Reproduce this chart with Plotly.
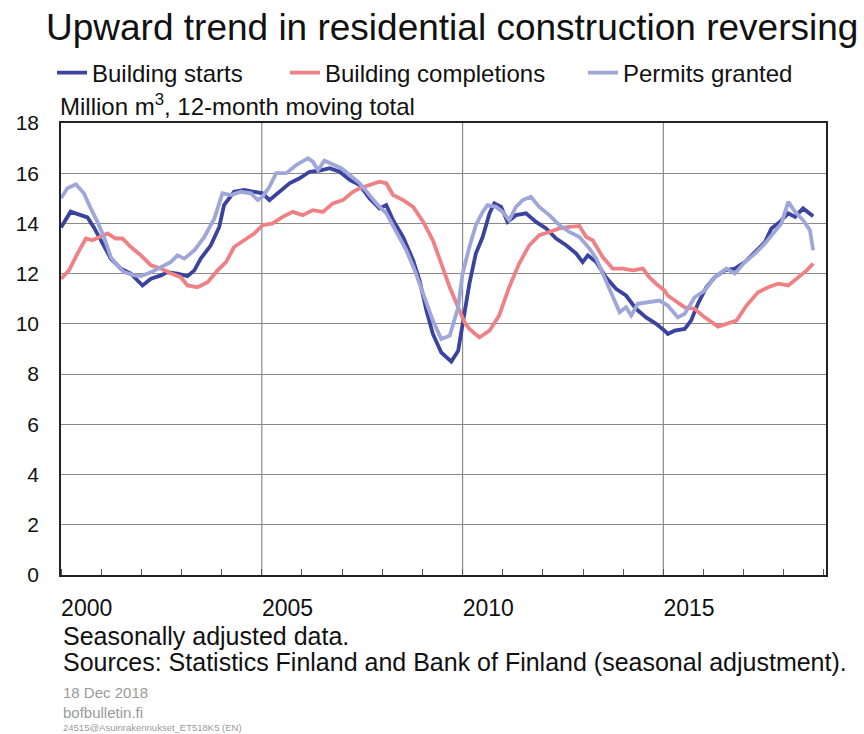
import plotly.graph_objects as go

# Values (million m3, 12-month moving total), decimal years
starts_t = [2000.0, 2000.24, 2000.49, 2000.66, 2000.82, 2001.07, 2001.24, 2001.49, 2001.74, 2002.03,
            2002.24, 2002.49, 2002.65, 2002.9, 2003.15, 2003.32, 2003.48, 2003.73, 2003.94, 2004.06,
            2004.31, 2004.56, 2004.81, 2005.02, 2005.19, 2005.44, 2005.69, 2005.94, 2006.19, 2006.44,
            2006.69, 2006.94, 2007.19, 2007.44, 2007.68, 2007.93, 2008.1, 2008.27, 2008.52, 2008.77,
            2008.93, 2009.1, 2009.26, 2009.47, 2009.72, 2009.89, 2010.0, 2010.17, 2010.33, 2010.5,
            2010.67, 2010.79, 2010.96, 2011.12, 2011.33, 2011.58, 2011.83, 2012.08, 2012.33, 2012.58,
            2012.83, 2012.99, 2013.12, 2013.33, 2013.57, 2013.82, 2014.07, 2014.32, 2014.57, 2014.82,
            2015.03, 2015.11, 2015.28, 2015.53, 2015.69, 2015.86, 2016.07, 2016.28, 2016.53, 2016.78,
            2017.03, 2017.28, 2017.53, 2017.69, 2017.9, 2018.11, 2018.28, 2018.48, 2018.73]
starts = [13.84, 14.47, 14.33, 14.24, 13.84, 13.06, 12.6, 12.2, 12.0, 11.53,
          11.8, 11.93, 12.06, 12.0, 11.9, 12.13, 12.6, 13.13, 13.86, 14.73,
          15.26, 15.33, 15.26, 15.2, 14.93, 15.26, 15.6, 15.8, 16.06, 16.1,
          16.2, 16.06, 15.73, 15.53, 15.0, 14.6, 14.73, 14.13, 13.46, 12.53,
          11.73, 10.53, 9.6, 8.86, 8.5, 8.93, 10.0, 11.6, 12.8, 13.46,
          14.4, 14.8, 14.66, 14.06, 14.33, 14.4, 14.06, 13.8, 13.4, 13.13,
          12.8, 12.46, 12.73, 12.46, 11.86, 11.4, 11.13, 10.6, 10.26, 10.0,
          9.73, 9.6, 9.73, 9.8, 10.13, 10.8, 11.46, 11.86, 12.13, 12.2,
          12.46, 12.86, 13.26, 13.8, 14.06, 14.4, 14.26, 14.6, 14.29]

completions_t = [2000.0, 2000.2, 2000.41, 2000.62, 2000.78, 2000.99, 2001.16, 2001.36, 2001.53, 2001.74,
                 2001.99, 2002.24, 2002.49, 2002.73, 2002.98, 2003.15, 2003.4, 2003.65, 2003.9, 2004.11,
                 2004.31, 2004.56, 2004.81, 2005.02, 2005.27, 2005.52, 2005.77, 2006.02, 2006.27, 2006.52,
                 2006.77, 2007.02, 2007.27, 2007.44, 2007.68, 2007.93, 2008.1, 2008.27, 2008.52, 2008.77,
                 2009.02, 2009.26, 2009.47, 2009.68, 2009.89, 2010.05, 2010.17, 2010.42, 2010.67, 2010.91,
                 2011.16, 2011.41, 2011.66, 2011.91, 2012.16, 2012.41, 2012.66, 2012.91, 2013.08, 2013.24,
                 2013.49, 2013.74, 2013.99, 2014.24, 2014.49, 2014.65, 2014.82, 2015.03, 2015.11, 2015.36,
                 2015.53, 2015.78, 2016.03, 2016.36, 2016.61, 2016.82, 2017.07, 2017.36, 2017.61, 2017.86,
                 2018.11, 2018.36, 2018.57, 2018.73]
completions = [11.8, 12.13, 12.8, 13.4, 13.33, 13.46, 13.6, 13.4, 13.4, 13.06,
               12.73, 12.33, 12.2, 12.02, 11.86, 11.53, 11.46, 11.66, 12.13, 12.46,
               13.06, 13.33, 13.6, 13.93, 14.0, 14.26, 14.46, 14.33, 14.53, 14.46,
               14.8, 14.93, 15.26, 15.4, 15.53, 15.66, 15.6, 15.13, 14.93, 14.66,
               14.06, 13.33, 12.4, 11.46, 10.66, 10.06, 9.8, 9.46, 9.73, 10.33,
               11.46, 12.4, 13.13, 13.53, 13.66, 13.8, 13.86, 13.9, 13.46, 13.33,
               12.66, 12.2, 12.2, 12.13, 12.2, 11.86, 11.6, 11.33, 11.13, 10.86,
               10.66, 10.6, 10.26, 9.89, 10.0, 10.13, 10.73, 11.26, 11.46, 11.6,
               11.53, 11.86, 12.13, 12.4]

permits_t = [2000.0, 2000.16, 2000.37, 2000.57, 2000.74, 2000.91, 2001.07, 2001.24, 2001.4, 2001.57,
             2001.82, 2001.99, 2002.24, 2002.49, 2002.73, 2002.9, 2003.07, 2003.32, 2003.57, 2003.82,
             2004.02, 2004.23, 2004.48, 2004.73, 2004.9, 2005.02, 2005.19, 2005.36, 2005.61, 2005.86,
             2006.15, 2006.27, 2006.4, 2006.56, 2006.77, 2006.98, 2007.19, 2007.44, 2007.68, 2007.89,
             2008.1, 2008.35, 2008.6, 2008.81, 2009.02, 2009.26, 2009.47, 2009.68, 2009.89, 2010.0,
             2010.17, 2010.33, 2010.5, 2010.62, 2010.83, 2011.0, 2011.16, 2011.33, 2011.5, 2011.7,
             2011.91, 2012.16, 2012.41, 2012.66, 2012.91, 2013.16, 2013.33, 2013.53, 2013.74, 2013.91,
             2014.07, 2014.2, 2014.36, 2014.65, 2014.9, 2015.11, 2015.36, 2015.53, 2015.78, 2016.03,
             2016.28, 2016.57, 2016.78, 2017.03, 2017.28, 2017.53, 2017.78, 2017.94, 2018.11, 2018.28,
             2018.48, 2018.65, 2018.73]
permits = [15.0, 15.4, 15.56, 15.2, 14.6, 14.06, 13.46, 12.66, 12.33, 12.06,
           11.93, 11.9, 12.06, 12.26, 12.46, 12.73, 12.6, 12.93, 13.46, 14.2,
           15.2, 15.13, 15.26, 15.2, 14.93, 15.07, 15.46, 16.0, 16.0, 16.33,
           16.6, 16.46, 16.13, 16.5, 16.33, 16.2, 15.93, 15.6, 15.13, 14.73,
           14.4, 13.66, 12.93, 12.13, 11.2, 10.13, 9.4, 9.53, 10.66, 12.0,
           13.06, 13.93, 14.46, 14.73, 14.66, 14.46, 14.13, 14.66, 14.93, 15.06,
           14.66, 14.33, 13.93, 13.66, 13.46, 13.0, 12.6, 11.86, 11.06, 10.46,
           10.66, 10.33, 10.8, 10.86, 10.93, 10.73, 10.26, 10.4, 11.06, 11.33,
           11.86, 12.2, 12.0, 12.46, 12.8, 13.2, 13.66, 14.0, 14.86, 14.46,
           14.13, 13.73, 12.93]

year_labels = ["2000", "2005", "2010", "2015"]
grid_years = [2005, 2010, 2015]

FONT = "Liberation Sans, Arial, sans-serif"
DARK, PINK, LIGHT = "#3a439e", "#ef8083", "#9ea6da"
GRID = "#8a8a8a"

# plot box 61..826 x 123..575 px
L, R, T, B = 61, 38, 123, 159
H = 734 - T - B
W = 864 - L - R


def py(px):
    return (734 - B - px) / H


def px_x(px):
    return (px - L) / W


fig = go.Figure()
# one legend per entry so each sits where the reference puts it
series = [("Building starts", starts_t, starts, DARK, "legend", 52),
          ("Building completions", completions_t, completions, PINK, "legend2", 285),
          ("Permits granted", permits_t, permits, LIGHT, "legend3", 583)]
legends = {}
for name, t, v, color, leg, lx in series:
    fig.add_trace(go.Scatter(x=t, y=v, mode="lines", name=name, legend=leg,
                             line=dict(color=color, width=3.8)))
    legends[leg] = dict(orientation="h", xref="container", yref="container",
                        x=lx / 864, xanchor="left", y=1 - 73 / 734, yanchor="middle",
                        font=dict(size=24), bgcolor="rgba(0,0,0,0)", borderwidth=0)

for yr in grid_years:
    fig.add_vline(x=yr, line_color=GRID, line_width=1.2, layer="below")

fig.update_layout(
    width=864, height=734,
    margin=dict(l=L, r=R, t=T, b=B, autoexpand=False),
    paper_bgcolor="white", plot_bgcolor="white",
    font=dict(family=FONT, size=22, color="#111"),
    title=dict(text="Upward trend in residential construction reversing",
               font=dict(size=37, color="#111"), x=46 / 864, xanchor="left",
               xref="container", y=1 - 27 / 734, yanchor="middle", yref="container"),
    showlegend=True,
    xaxis=dict(range=[2000, 2019.05], showgrid=False, zeroline=False, automargin=False,
               tickvals=[int(s) + 0.64 for s in year_labels], ticktext=year_labels, ticks="",
               ticklabelstandoff=12, tickfont=dict(size=23),
               minor=dict(tickmode="linear", tick0=2000, dtick=1, ticks="inside", ticklen=6,
                          tickcolor="#555", showgrid=False),
               showline=True, mirror=True, linecolor="#222", linewidth=1.5),
    yaxis=dict(range=[0, 18], dtick=2, showgrid=True, gridcolor=GRID, gridwidth=1.2,
               zeroline=False, ticks="", ticklabelstandoff=16, automargin=False,
               tickfont=dict(size=21),
               showline=True, mirror=True, linecolor="#222", linewidth=1.5),
    **legends,
)

notes = [
    ("Million m<sup>3</sup>, 12-month moving total", 58, 105, 24, "#111"),
    ("Seasonally adjusted data.", 61, 636, 25, "#111"),
    ("Sources: Statistics Finland and Bank of Finland (seasonal adjustment).", 61, 662, 25, "#111"),
    ("18 Dec 2018", 61, 692, 15, "#9a9a9a"),
    ("bofbulletin.fi", 61, 712, 15, "#9a9a9a"),
    ("24515@Asuinrakennukset_ET518K5 (EN)", 61, 727, 9.5, "#9a9a9a"),
]
for text, x, y, size, color in notes:
    fig.add_annotation(text=text, xref="paper", yref="paper", x=px_x(x), y=py(y),
                       xanchor="left", yanchor="middle", showarrow=False,
                       font=dict(size=size, color=color))

# the page's default 8px body margin would shift the whole figure
fig.write_html("out.html", config={"displayModeBar": False},
               post_script="document.body.style.margin = '0';")
